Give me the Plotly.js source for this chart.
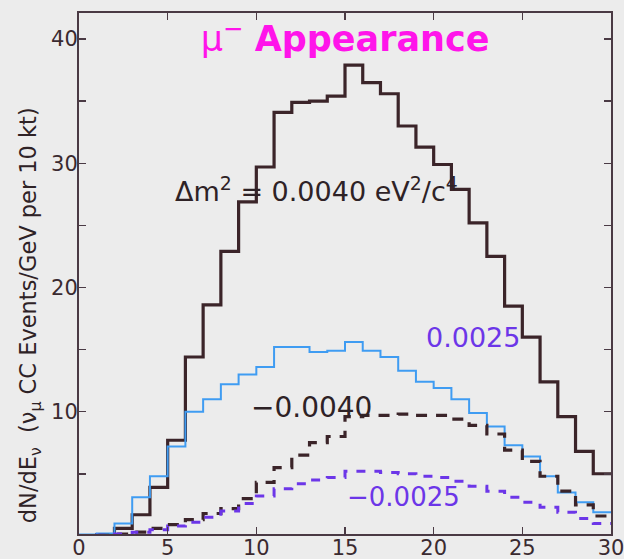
<!DOCTYPE html>
<html>
<head>
<meta charset="utf-8">
<script src="https://cdn.plot.ly/plotly-3.0.1.min.js"></script>
<style>html,body{margin:0;padding:0;background:#ececec;}#chart{width:624px;height:559px;}</style>
</head>
<body>
<div id="chart"></div>
<script>
// Bin edges (E, GeV) – 30 bins of 1 GeV
const binEdges = [0,1,2,3,4,5,6,7,8,9,10,11,12,13,14,15,16,17,18,19,20,21,22,23,24,25,26,27,28,29,30];
// Δm² = 0.0040 eV²/c⁴ (solid black)
const pos0040 = [0,0.1,0.6,1.7,3.9,7.7,14.4,18.6,22.9,26.9,29.7,34.1,34.9,35.0,35.4,37.9,36.5,35.6,33.0,31.3,29.9,27.9,25.2,22.5,18.5,16.0,12.4,9.6,6.8,5.0];
// Δm² = 0.0025 (solid blue)
const pos0025 = [0.1,0.2,1.0,3.1,4.8,7.2,10.0,11.0,12.2,13.0,13.6,15.2,15.2,14.8,14.9,15.6,14.9,14.4,13.3,12.4,11.9,11.0,9.9,8.8,7.3,6.4,4.8,3.5,2.7,1.9];
// Δm² = −0.0040 (dashed black)
const neg0040 = [0,0.05,0.15,0.3,0.6,0.9,1.3,1.8,2.2,3.0,4.3,5.5,6.5,7.5,8.0,9.6,9.7,9.7,9.8,9.7,9.7,9.4,8.9,8.2,6.9,6.0,4.8,3.6,2.5,1.6];
// Δm² = −0.0025 (dashed purple)
const neg0025 = [0,0.05,0.15,0.3,0.5,0.8,1.1,1.5,2.0,2.6,3.2,3.8,4.2,4.5,4.7,5.2,5.2,5.1,5.0,4.8,4.7,4.4,4.0,3.6,3.1,2.7,2.3,1.9,1.4,1.0];
// Tick labels
const xTickVals = [0,5,10,15,20,25,30];
const xTickText = ['0','5','10','15','20','25','30'];
const yTickVals = [10,20,30,40];
const yTickText = ['10','20','30','40'];
// Texts
const titleText = 'μ<sup>−</sup> <b>Appearance</b>';
const yTitleText = 'dN/dE<sub>ν</sub>  (ν<sub>μ</sub> CC Events/GeV per 10 kt)';
const curveLabels = ['Δm<sup>2</sup> = 0.0040 eV<sup>2</sup>/c<sup>4</sup>','0.0025','−0.0040','−0.0025'];

function stepY(v){ return v.concat([v[v.length-1]]); }

const dark = '#3b2429';
const purple = '#6c36e8';
const traces = [
  {x: binEdges, y: stepY(pos0040), mode:'lines', line:{shape:'hv', color:dark, width:3.2}, name:'0.0040'},
  {x: binEdges, y: stepY(pos0025), mode:'lines', line:{shape:'hv', color:'#3f9cf2', width:2}, name:'0.0025'},
  {x: binEdges, y: stepY(neg0040), mode:'lines', line:{shape:'hv', color:dark, width:3.2, dash:'11px,9px'}, name:'-0.0040'},
  {x: binEdges, y: stepY(neg0025), mode:'lines', line:{shape:'hv', color:purple, width:3, dash:'9px,9px'}, name:'-0.0025'}
];

const font = 'DejaVu Sans, sans-serif';
const axisCommon = {
  showline:true, linecolor:'#4a3a44', linewidth:2, mirror:'ticks',
  ticks:'inside', ticklen:7, tickwidth:1.5, tickcolor:'#4a3a44',
  showgrid:false, zeroline:false, ticklabeloverflow:'allow',
  tickfont:{family:font, size:21, color:'#3a2a30'}
};

const layout = {
  width:624, height:559,
  paper_bgcolor:'#ececec', plot_bgcolor:'#ececec',
  margin:{l:79, r:13, t:13, b:25},
  showlegend:false,
  title:{text:titleText, font:{family:font, size:35, color:'#ff14ea'},
         x:0.553, xref:'container', xanchor:'center', y:0.93, yref:'container', yanchor:'middle'},
  xaxis: Object.assign({}, axisCommon, {range:[0,30], tickvals:xTickVals, ticktext:xTickText, ticklabelstandoff:-6}),
  yaxis: Object.assign({}, axisCommon, {range:[0.15,42.1], tickvals:yTickVals, ticktext:yTickText, ticklabelstandoff:-5,
         minor:{dtick:5, tick0:0, ticks:'inside', ticklen:7, tickwidth:1.5, tickcolor:'#4a3a44'}}),
  annotations:[
    {x:-0.092, y:0.42, xref:'paper', yref:'paper', text:yTitleText, textangle:-90, showarrow:false,
     xanchor:'center', yanchor:'middle', font:{family:font, size:22.5, color:'#2e2226'}},
    {x:13.4, y:27.9, xref:'x', yref:'y', text:curveLabels[0], showarrow:false, font:{family:font, size:27, color:'#2e2226'}},
    {x:22.2, y:16.0, xref:'x', yref:'y', text:curveLabels[1], showarrow:false, font:{family:font, size:27, color:purple}},
    {x:13.1, y:10.3, xref:'x', yref:'y', text:curveLabels[2], showarrow:false, font:{family:font, size:28, color:'#2e2226'}},
    {x:18.3, y:3.1, xref:'x', yref:'y', text:curveLabels[3], showarrow:false, font:{family:font, size:26, color:purple}}
  ]
};

Plotly.newPlot('chart', traces, layout, {displayModeBar:false, staticPlot:true});
</script>
</body>
</html>
